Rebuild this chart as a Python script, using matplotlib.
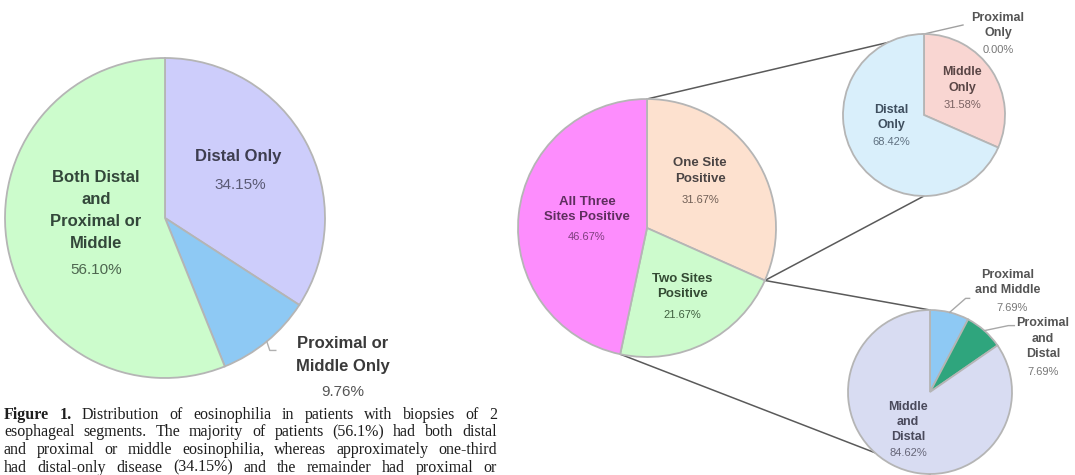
import matplotlib
matplotlib.use("Agg")
import matplotlib.pyplot as plt
import numpy as np

# ---- data -------------------------------------------------------------
# Patients with biopsies of two oesophageal segments
two_seg_labels = ["Distal Only", "Proximal or\nMiddle Only", "Both Distal\nand\nProximal or\nMiddle"]
two_seg_values = [34.15, 9.76, 56.10]

# Patients with biopsies of three segments
three_seg_labels = ["One Site\nPositive", "Two Sites\nPositive", "All Three\nSites Positive"]
three_seg_values = [31.67, 21.67, 46.67]

# Breakdown of "One Site Positive"
one_site_labels = ["Proximal\nOnly", "Middle\nOnly", "Distal\nOnly"]
one_site_values = [0.00, 31.58, 68.42]

# Breakdown of "Two Sites Positive"
two_site_labels = ["Proximal\nand Middle", "Proximal\nand\nDistal", "Middle\nand\nDistal"]
two_site_values = [7.69, 7.69, 84.62]

caption_lines = [
    "Figure 1. Distribution of eosinophilia in patients with biopsies of 2",
    "esophageal segments. The majority of patients (56.1%) had both distal",
    "and proximal or middle eosinophilia, whereas approximately one-third",
    "had distal-only disease (34.15%) and the remainder had proximal or",
]

# ---- canvas: one axes whose data units are pixels (y grows downward) --
W, H = 1075, 475
fig = plt.figure(figsize=(W / 100, H / 100), dpi=100)
ax = fig.add_axes([0, 0, 1, 1])

SANS = "Liberation Sans"
SERIF = "Liberation Serif"
EDGE = dict(edgecolor="#b5b5b5", linewidth=1.3)


def draw_pie(values, center, radius, colors, z=2):
    ax.pie(values, colors=colors, center=center, radius=radius,
           startangle=-90, counterclock=True, wedgeprops=dict(EDGE, zorder=z),
           normalize=True)


def edge_point(values, center, radius, frac_index, mid=False):
    """Point on the rim at the start (or middle) of wedge frac_index."""
    v = np.asarray(values, float) / np.sum(values)
    cum = np.concatenate([[0], np.cumsum(v)])
    f = cum[frac_index] + (v[frac_index] / 2 if mid else 0)
    phi = np.deg2rad(-90 + 360 * f)
    return center[0] + radius * np.cos(phi), center[1] + radius * np.sin(phi)


def put_label(x, ys, text, pct_xy, value, size, pct_size, color, pct_color):
    for y, line in zip(ys, text.split("\n")):
        ax.text(x, y, line, ha="center", va="center", fontsize=size,
                fontweight="bold", family=SANS, color=color, zorder=6)
    ax.text(pct_xy[0], pct_xy[1], f"{value:.2f}%", ha="center", va="center",
            fontsize=pct_size, family=SANS, color=pct_color, zorder=6)


# ---- left pie ---------------------------------------------------------
c_left, r_left = (165, 218), 160
draw_pie(two_seg_values, c_left, r_left, ["#cdcdfb", "#8ec9f4", "#ccfccc"])
put_label(238, [156], two_seg_labels[0], (240, 185), two_seg_values[0],
          12, 11, "#3d3d4f", "#5a5a74")
put_label(343, [344, 366], two_seg_labels[1], (343, 392), two_seg_values[1],
          12, 11, "#3a3a3a", "#555555")
put_label(96, [178, 200, 222, 243], two_seg_labels[2], (96, 270), two_seg_values[2],
          12, 11, "#33473a", "#4d664f")
px, py = edge_point(two_seg_values, c_left, r_left, 1, mid=True)
ax.plot([px, px + 3, px + 9], [py, py + 9, py + 9], color="#b0b0b0", lw=1, zorder=3)

# ---- main three-segment pie ------------------------------------------
c_main, r_main = (647, 228), 129
c_top, r_top = (924, 115), 81
c_bot, r_bot = (930, 392), 82

# connector lines from the exploded wedges to the breakdown pies
p0 = edge_point(three_seg_values, c_main, r_main, 0)
p1 = edge_point(three_seg_values, c_main, r_main, 1)
p2 = edge_point(three_seg_values, c_main, r_main, 2)
for a, b in [(p0, (c_top[0], c_top[1] - r_top)), (p1, (c_top[0], c_top[1] + r_top)),
             (p1, (c_bot[0], c_bot[1] - r_bot)), (p2, (c_bot[0], c_bot[1] + r_bot))]:
    ax.plot([a[0], b[0]], [a[1], b[1]], color="#5a5a5a", lw=1.1, zorder=1)

draw_pie(three_seg_values, c_main, r_main, ["#fde1cf", "#cdfbcd", "#fd8dfd"])
put_label(700, [163, 179], three_seg_labels[0], (700, 200), three_seg_values[0],
          9.5, 8, "#4a4444", "#6f5e55")
put_label(682, [279, 294], three_seg_labels[1], (682, 315), three_seg_values[1],
          9.5, 8, "#334a33", "#3f5f3f")
put_label(587, [202, 217], three_seg_labels[2], (587, 237), three_seg_values[2],
          9.5, 8, "#5e2e5e", "#7e3e7e")

# ---- breakdown of one-site-positive ------------------------------------
draw_pie(one_site_values, c_top, r_top, ["#d0e8f8", "#f9d6d2", "#d9effb"], z=2)
tx, ty = edge_point(one_site_values, c_top, r_top, 0)
ax.plot([tx, tx + 39], [ty, ty - 9], color="#a0a0a0", lw=1, zorder=1)
put_label(998, [18, 33], one_site_labels[0], (998, 50), one_site_values[0],
          9, 8, "#555555", "#777777")
put_label(962, [72, 88], one_site_labels[1], (962, 105), one_site_values[1],
          9, 8, "#5a4646", "#7a6262")
put_label(891, [110, 125], one_site_labels[2], (891, 142), one_site_values[2],
          9, 8, "#3f4f5f", "#5f7080")

# ---- breakdown of two-sites-positive -----------------------------------
draw_pie(two_site_values, c_bot, r_bot, ["#8ec9f4", "#2fa57d", "#d8dcf2"], z=2)
ax_, ay_ = edge_point(two_site_values, c_bot, r_bot, 0, mid=True)
ax.plot([ax_, ax_ + 16, ax_ + 20], [ay_, ay_ - 14, ay_ - 14], color="#a8a8a8", lw=1, zorder=3)
bx_, by_ = edge_point(two_site_values, c_bot, r_bot, 1, mid=True)
ax.plot([bx_, bx_ + 24, bx_ + 30], [by_, by_ - 5, by_ - 5], color="#a8a8a8", lw=1, zorder=3)
put_label(1008, [275, 290], two_site_labels[0], (1012, 308), two_site_values[0],
          9, 8, "#555555", "#777777")
put_label(1043, [323, 339, 354], two_site_labels[1], (1043, 372), two_site_values[1],
          9, 8, "#555555", "#777777")
put_label(908, [407, 422, 437], two_site_labels[2], (908, 453), two_site_values[2],
          9, 8, "#4a4a5c", "#666678")

# ---- axes frame --------------------------------------------------------
ax.set_aspect("auto")
ax.set_xlim(0, W)
ax.set_ylim(H, 0)
ax.axis("off")

# ---- justified caption -------------------------------------------------
renderer = fig.canvas.get_renderer()


def justified(line, y, x0, x1, bold_words=0):
    words = line.split(" ")
    texts = [ax.text(0, y, w, ha="left", va="center", fontsize=11.5, family=SERIF,
                     fontweight="bold" if i < bold_words else "normal",
                     color="#1e1e1e", zorder=6)
             for i, w in enumerate(words)]
    widths = [t.get_window_extent(renderer).width for t in texts]
    gap = (x1 - x0 - sum(widths)) / (len(words) - 1)
    x = x0
    for t, w in zip(texts, widths):
        t.set_x(x)
        x += w + gap


for i, line in enumerate(caption_lines):
    justified(line, 415 + 17.5 * i, 4, 497, bold_words=2 if i == 0 else 0)

fig.savefig("out.png", dpi=100)
